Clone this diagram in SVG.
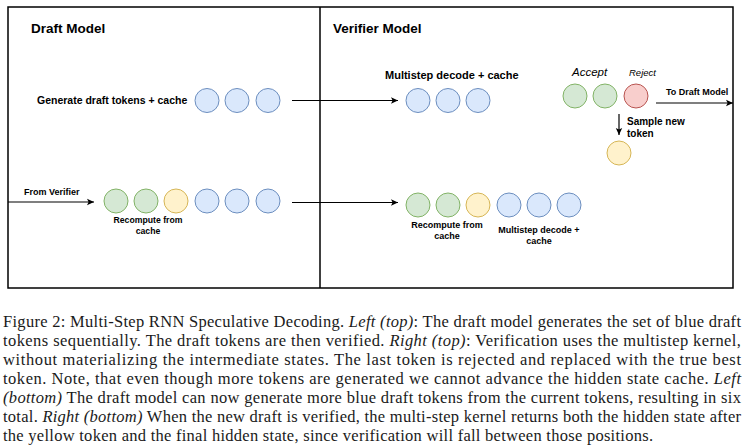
<svg xmlns="http://www.w3.org/2000/svg" width="746" height="447" viewBox="0 0 746 447">
<defs>
<marker id="arr" markerWidth="8" markerHeight="8" refX="7" refY="4" orient="auto" markerUnits="userSpaceOnUse">
<path d="M0,0.8 L7,4 L0,7.2 L1.6,4 z" fill="#000"/>
</marker>
<style>
.box{fill:none;stroke:#000;stroke-width:1.5}
.t{font-family:"Liberation Sans",Arial,sans-serif;font-weight:bold;fill:#000}
.it{font-family:"Liberation Sans",Arial,sans-serif;font-style:italic;fill:#000}
.blue{fill:#dae8fc;stroke:#6c8ebf;stroke-width:1}
.green{fill:#d5e8d4;stroke:#82b366;stroke-width:1}
.yellow{fill:#fff2cc;stroke:#d6b656;stroke-width:1}
.red{fill:#f8cecc;stroke:#b85450;stroke-width:1}
.c{fill:none;stroke:#000;stroke-width:1.2}
.cap{font-family:"Liberation Serif","Times New Roman",serif;font-size:16.5px;fill:#1a1a1a}
.cap tspan.i{font-style:italic}
</style>
</defs>
<rect width="746" height="447" fill="#fff"/>
<g id="panels">
<rect class="box" x="8" y="7" width="725" height="281"/>
<line class="box" x1="320" y1="7" x2="320" y2="288"/>
<text class="t" x="31" y="33" font-size="13.5">Draft Model</text>
<text class="t" x="333" y="33" font-size="13.5">Verifier Model</text>
</g>
<g id="draft-top">
<text class="t" x="37" y="104" font-size="10.5">Generate draft tokens + cache</text>
<circle class="blue" cx="207" cy="100.5" r="12"/>
<circle class="blue" cx="237" cy="100.5" r="12"/>
<circle class="blue" cx="268" cy="100.5" r="12"/>
</g>
<g id="draft-bottom">
<text class="t" x="24" y="195" font-size="9">From Verifier</text>
<circle class="green" cx="116" cy="201" r="12"/>
<circle class="green" cx="146" cy="201" r="12"/>
<circle class="yellow" cx="176" cy="201" r="12"/>
<circle class="blue" cx="207" cy="201" r="12"/>
<circle class="blue" cx="237" cy="201" r="12"/>
<circle class="blue" cx="268" cy="201" r="12"/>
<text class="t" x="148" y="223" font-size="8.7" text-anchor="middle">Recompute from</text>
<text class="t" x="148" y="233.5" font-size="8.7" text-anchor="middle">cache</text>
</g>
<g id="verifier-top">
<text class="t" x="385" y="79" font-size="11">Multistep decode + cache</text>
<circle class="blue" cx="418" cy="100.5" r="12"/>
<circle class="blue" cx="448" cy="100.5" r="12"/>
<circle class="blue" cx="478" cy="100.5" r="12"/>
</g>
<g id="accept-reject">
<text class="it" x="572" y="76" font-size="11.5">Accept</text>
<text class="it" x="629" y="76" font-size="9.5">Reject</text>
<circle class="green" cx="575" cy="96" r="12"/>
<circle class="green" cx="605" cy="96" r="12"/>
<circle class="red" cx="636" cy="96" r="12"/>
<text class="t" x="666" y="95" font-size="9">To Draft Model</text>
<text class="t" x="627" y="125" font-size="10">Sample new</text>
<text class="t" x="627" y="137" font-size="10">token</text>
<circle class="yellow" cx="619" cy="153" r="12"/>
</g>
<g id="verifier-bottom">
<circle class="green" cx="418" cy="205" r="12"/>
<circle class="green" cx="448" cy="205" r="12"/>
<circle class="yellow" cx="478" cy="205" r="12"/>
<circle class="blue" cx="509" cy="205" r="12"/>
<circle class="blue" cx="539" cy="205" r="12"/>
<circle class="blue" cx="569" cy="205" r="12"/>
<text class="t" x="447" y="228" font-size="9" text-anchor="middle">Recompute from</text>
<text class="t" x="447" y="239" font-size="9" text-anchor="middle">cache</text>
<text class="t" x="539" y="233" font-size="9" text-anchor="middle">Multistep decode +</text>
<text class="t" x="539" y="244" font-size="9" text-anchor="middle">cache</text>
</g>
<g id="connectors">
<line class="c" x1="292" y1="100.5" x2="398" y2="100.5" marker-end="url(#arr)"/>
<line class="c" x1="292" y1="202.5" x2="398" y2="202.5" marker-end="url(#arr)"/>
<line class="c" x1="8" y1="202" x2="94" y2="202" marker-end="url(#arr)"/>
<line class="c" x1="656" y1="103" x2="733" y2="103" marker-end="url(#arr)"/>
<line class="c" x1="619" y1="114" x2="619" y2="135" marker-end="url(#arr)"/>
</g>
<g id="caption">
<text class="cap" x="3" y="327" textLength="738" lengthAdjust="spacing">Figure 2: Multi-Step RNN Speculative Decoding. <tspan class="i">Left (top)</tspan>: The draft model generates the set of blue draft</text>
<text class="cap" x="3" y="346" textLength="738" lengthAdjust="spacing">tokens sequentially. The draft tokens are then verified. <tspan class="i">Right (top)</tspan>: Verification uses the multistep kernel,</text>
<text class="cap" x="3" y="365" textLength="738" lengthAdjust="spacing">without materializing the intermediate states. The last token is rejected and replaced with the true best</text>
<text class="cap" x="3" y="384" textLength="738" lengthAdjust="spacing">token. Note, that even though more tokens are generated we cannot advance the hidden state cache. <tspan class="i">Left</tspan></text>
<text class="cap" x="3" y="403" textLength="738" lengthAdjust="spacing"><tspan class="i">(bottom)</tspan> The draft model can now generate more blue draft tokens from the current tokens, resulting in six</text>
<text class="cap" x="3" y="422" textLength="738" lengthAdjust="spacing">total. <tspan class="i">Right (bottom)</tspan> When the new draft is verified, the multi-step kernel returns both the hidden state after</text>
<text class="cap" x="3" y="441" textLength="650" lengthAdjust="spacing">the yellow token and the final hidden state, since verification will fall between those positions.</text>
</g>
</svg>
